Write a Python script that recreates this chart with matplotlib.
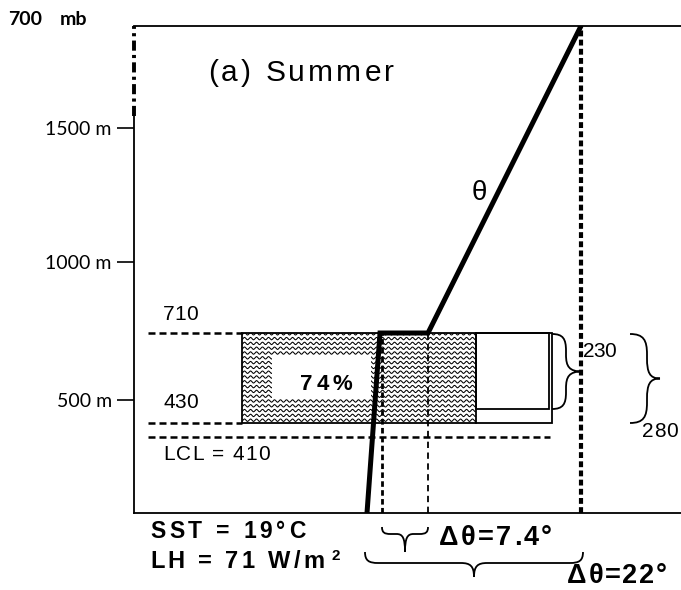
import numpy as np
import matplotlib
matplotlib.use('Agg')
import matplotlib.pyplot as plt
from matplotlib.patches import Rectangle, PathPatch
from matplotlib.path import Path
from matplotlib import font_manager

# ---------------- data ----------------
height_ticks = [500, 1000, 1500]
height_tick_labels = ['500 m', '1000 m', '1500 m']
top_level = ['700', 'mb']
theta_x = [367, 380, 428, 581]        # schematic theta position
theta_z = [0, 710, 710, 3000]         # height (m)
cloud_top = 710
cloud_base = 430
clear_base = 480                      # 710 - 230
lcl = 410
cloud_x = [242, 476, 552]             # cloud start, cloudy/clear edge, box end
theta_ref_x = [382, 428, 581]         # reference theta lines
cloud_fraction = '74%'
depth_labels = ['230', '280']
dtheta_labels = ['Δθ=7.4°', 'Δθ=22°']
sst_label = 'SST = 19°C'
lh_label = 'LH = 71 W/m'
title = '(a) Summer'

# schematic (non-linear) height axis
Z_KNOTS = np.array([-1000, 0, 410, 430, 480, 500, 710, 1000, 1500, 3000, 4000], float)
P_KNOTS = np.array([739, 513, 437, 423, 409, 400, 333, 262, 128, 26, -43], float)


def fwd(z):
    return -np.interp(z, Z_KNOTS, P_KNOTS)


def inv(v):
    return np.interp(-np.asarray(v), P_KNOTS[::-1], Z_KNOTS[::-1])


fig = plt.figure(figsize=(6.81, 5.90), dpi=100)
ax = fig.add_axes([134 / 681, (590 - 513) / 590, (681 - 134) / 681, (513 - 26) / 590])
ax.set_yscale('function', functions=(fwd, inv))
ax.set_xlim(134, 681)
ax.set_ylim(0, 3000)
ax.set_xticks([])
for s in ['right', 'left']:
    ax.spines[s].set_visible(False)
for s in ['top', 'bottom']:
    ax.spines[s].set_linewidth(1.3)
ax.set_yticks(height_ticks, height_tick_labels, fontfamily='Lato', fontsize=14)
ax.tick_params(axis='y', direction='out', length=12, width=1.2, pad=4)
ax.yaxis.set_minor_locator(matplotlib.ticker.NullLocator())

# left axis: solid below, dash-dot above
ax.plot([134, 134], [0, 1675], color='k', lw=1.3, clip_on=False)
ax.plot([134, 134], [1675, 3000], color='k', lw=2.8, ls=(0, (2.6, 1.1, 0.8, 1.1)), clip_on=False)

# level dashed lines
dash_lv = (0, (2.8, 1.6))
ax.plot([148, cloud_x[0]], [cloud_top, cloud_top], color='k', lw=1.8, ls=dash_lv)
ax.plot([148, cloud_x[0]], [cloud_base, cloud_base], color='k', lw=1.8, ls=dash_lv)
ax.plot([148, cloud_x[2] - 2], [lcl, lcl], color='k', lw=1.8, ls=dash_lv)

# cloud box
ax.add_patch(Rectangle((cloud_x[0], cloud_base), cloud_x[2] - cloud_x[0], cloud_top - cloud_base,
                       fill=False, ec='k', lw=1.3, zorder=3))
ax.add_patch(Rectangle((cloud_x[1], clear_base), cloud_x[2] - 3 - cloud_x[1], cloud_top - clear_base,
                       fill=False, ec='k', lw=1.3, zorder=3))
ax.plot([cloud_x[1], cloud_x[1]], [cloud_base, cloud_top], color='k', lw=1.3, zorder=3)
hatch_rect = Rectangle((cloud_x[0], cloud_base), cloud_x[1] - cloud_x[0], cloud_top - cloud_base,
                       fill=False, lw=0)
ax.add_patch(hatch_rect)

# reference theta lines
ax.plot([theta_ref_x[0]] * 2, [0, cloud_top], color='k', lw=2.0, ls=(0, (2.0, 1.2)))
ax.plot([theta_ref_x[1]] * 2, [0, cloud_top], color='k', lw=1.3, ls=(0, (3.5, 2.5)))
ax.plot([theta_ref_x[2]] * 2, [0, 3000], color='k', lw=3.0, ls=(0, (1.4, 0.8)))

# theta profile
ax.plot(theta_x, theta_z, color='k', lw=3.6, solid_joinstyle='miter', solid_capstyle='butt', zorder=5)

# ---------------- overlay in pixel coordinates ----------------
ax2 = fig.add_axes([0, 0, 1, 1], facecolor='none')
ax2.set_xlim(0, 681)
ax2.set_ylim(590, 0)
ax2.axis('off')

# wavy texture clipped to the cloudy part
xw = np.linspace(230, 490, 1400)
for row in np.arange(329, 430, 4.8):
    ln, = ax2.plot(xw, row + 1.2 * np.sin(2 * np.pi * xw / 6.0), color='k', lw=0.75)
    ln.set_clip_path(hatch_rect)
ax2.add_patch(Rectangle((272, 355), 99, 44, fc='white', ec='none', zorder=4))

renderer = fig.canvas.get_renderer()


def char_adv(s, family, weight, size):
    prop = font_manager.FontProperties(family=family, weight=weight, size=size)
    base, _, _ = renderer.get_text_width_height_descent('||', prop, ismath=False)
    out = []
    for c in s:
        w, _, _ = renderer.get_text_width_height_descent('|' + c + '|', prop, ismath=False)
        out.append(w - base)
    return out


def spaced(x, y, s, size, right=None, spacing=0.0, family='Liberation Sans', weight='normal'):
    adv = char_adv(s, family, weight, size)
    if right is not None and len(s) > 1:
        spacing = (right - x - sum(adv)) / (len(s) - 1)
    pen = x
    for c, a in zip(s, adv):
        if c != ' ':
            ax2.text(pen, y, c, fontsize=size, family=family, weight=weight,
                     ha='left', va='baseline', zorder=6)
        pen += a + spacing


def brace(p0, p1, body, depth, lw=1.3):
    p0 = np.array(p0, float)
    p1 = np.array(p1, float)
    d = p1 - p0
    L = np.hypot(*d)
    u = d / L
    n = np.array([-u[1], u[0]])
    r = min(body * 1.2, L / 4)

    def P(a, b):
        return p0 + u * a + n * b
    m = L / 2
    verts = [P(0, 0), P(0, body * 0.8), P(r * 0.3, body), P(r, body),
             P(m - r, body),
             P(m - r * 0.3, body), P(m, body + (depth - body) * 0.2), P(m, depth),
             P(m, body + (depth - body) * 0.2), P(m + r * 0.3, body), P(m + r, body),
             P(L - r, body),
             P(L - r * 0.3, body), P(L, body * 0.8), P(L, 0)]
    C, Lt = Path.CURVE4, Path.LINETO
    codes = [Path.MOVETO, C, C, C, Lt, C, C, C, C, C, C, Lt, C, C, C]
    ax2.add_patch(PathPatch(Path(verts, codes), fill=False, ec='k', lw=lw))


brace((382, 527), (428, 527), 7, 25)
brace((365, 552), (583, 552), 11, 25)
brace((552, 409), (552, 334), 14, 30)
brace((630, 423), (630, 334), 17, 30)

# texts
ax2.text(8, 25, top_level[0], family='Lato', weight='bold', fontsize=14, ha='left', va='baseline')
ax2.text(60, 25, top_level[1], family='Lato', weight='bold', fontsize=14, ha='left', va='baseline')
spaced(208, 81, title, 21.5, right=394)
ax2.text(479, 200, 'θ', family='Liberation Sans', fontsize=20, ha='center', va='baseline')
spaced(163, 320, str(cloud_top), 15, right=198)
spaced(163, 408, str(cloud_base), 15, right=198)
spaced(163, 460, f'LCL = {lcl}', 15, right=270)
spaced(300, 390, cloud_fraction, 16, right=352, weight='bold')
spaced(583, 357, depth_labels[0], 15, right=616)
spaced(642, 437, depth_labels[1], 15, right=678)
spaced(150, 538, sst_label, 16.5, right=305, weight='bold')
spaced(150, 568, lh_label, 17, right=325, weight='bold')
ax2.text(332, 560, '2', family='Liberation Sans', weight='bold', fontsize=11, ha='left', va='baseline')
spaced(439, 545, dtheta_labels[0], 19.5, right=552, weight='bold')
spaced(567, 583, dtheta_labels[1], 19.5, right=667, weight='bold')

fig.savefig('out.png', dpi=100)
